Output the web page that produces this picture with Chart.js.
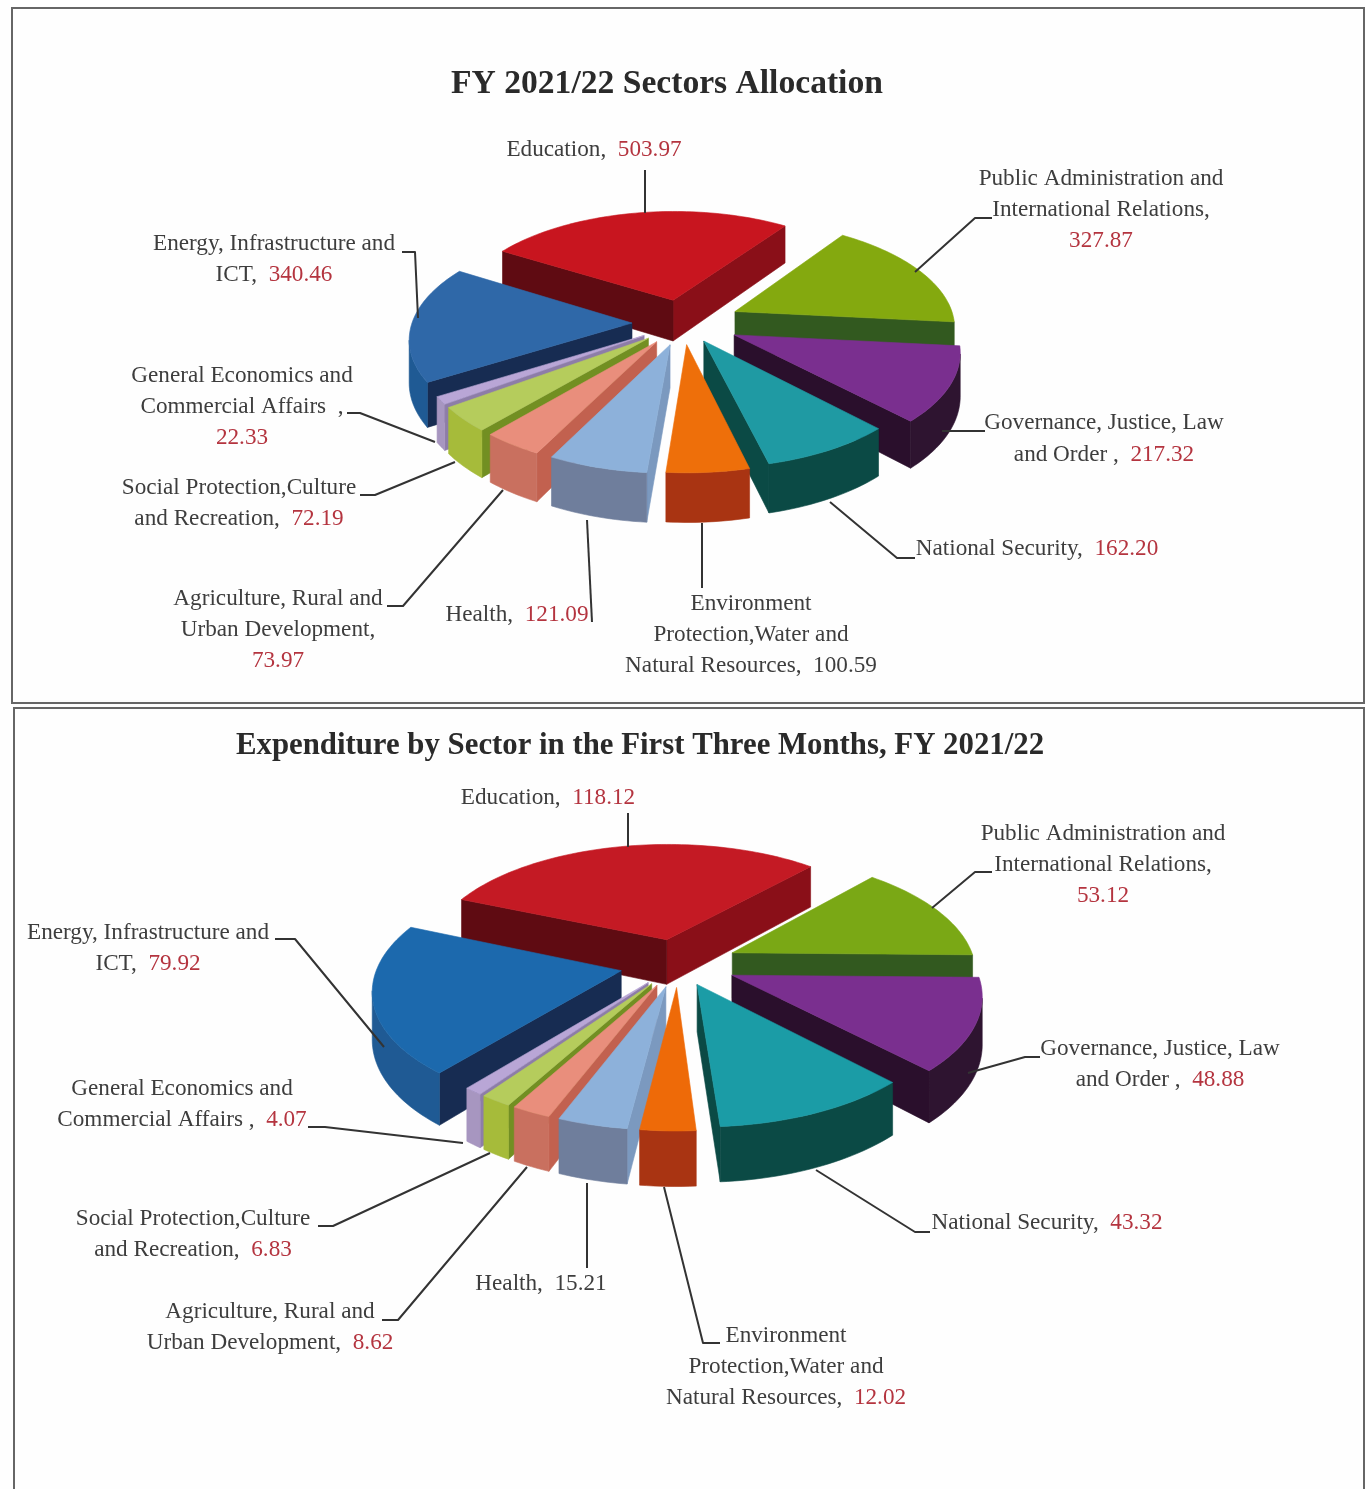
<!DOCTYPE html>
<html><head><meta charset="utf-8">
<script src="https://cdn.jsdelivr.net/npm/chart.js@4"></script>
<style>
html,body{margin:0;padding:0;background:#fefefe;width:1365px;height:1489px;overflow:hidden}
canvas{position:absolute;left:0;filter:blur(.7px)}
.frame{position:absolute;box-sizing:border-box;border:2px solid #666;filter:blur(.6px)}
</style></head><body>
<div class="frame" style="left:11px;top:7px;width:1354px;height:697px"></div>
<div class="frame" style="left:13px;top:707px;width:1352px;height:800px;border-bottom:none"></div>
<canvas id="c1" width="1334" height="705" style="top:0"></canvas>
<canvas id="c2" width="1280" height="781" style="top:708px"></canvas>
<script>
// ---- data ----
const categories = ["Education","Public Administration and International Relations","Governance, Justice, Law and Order","National Security","Environment Protection, Water and Natural Resources","Health","Agriculture, Rural and Urban Development","Social Protection, Culture and Recreation","General Economics and Commercial Affairs","Energy, Infrastructure and ICT"];
const allocation = [503.97,327.87,217.32,162.20,100.59,121.09,73.97,72.19,22.33,340.46];
const expenditure = [118.12,53.12,48.88,43.32,12.02,15.21,8.62,6.83,4.07,79.92];
const title1 = "FY 2021/22 Sectors Allocation";
const title2 = "Expenditure by Sector in the First Three Months, FY 2021/22";

// ---- styles ----
const topColors1  = ["#c8151f","#84a90f","#7a2f8f","#1f9aa3","#ee6f0a","#8db1da","#e98e7c","#b5cc5c","#b9a6d6","#2f68a8"];
const topColors2  = ["#c41a24","#7aa815","#7a2f8f","#1b9ca6","#ee6a08","#8db1da","#e98e7c","#b5cc5c","#b9a6d6","#1c69ad"];
const rimColors   = ["#7a0d15","#35591f","#2e1430","#0b4a45","#a93412","#6f7e9c","#c9705f","#a6bb3a","#a796c0","#1f5a94"];
const startColors = ["#5f0b12","#35591f","#2e1430","#0b4a45","#a93412","#7b99bf","#c2614f","#728f22","#8d7da8","#172c52"];
const endColors   = ["#8a0f18","#32591f","#2a0f2c","#0b4a45","#a93412","#6f7e9c","#c9705f","#728f22","#8d7da8","#172c52"];
const offsets1 = [50,58,56,42,44,46,46,46,46,51];
const offsets2 = [54,60,58,46,48,48,48,48,48,58];
const INK="#3d3d3d", RED="#b4343f", LINE="#333333";

// label text: {v} stands for the value from the data arrays
const labels1 = [
 {x:594,y:[150],t:["Education,  {v}"]},
 {x:1101,y:[179,210,241],t:["Public Administration and","International Relations,","{v}"]},
 {x:1104,y:[423,455],t:["Governance, Justice, Law","and Order ,  {v}"]},
 {x:1037,y:[549],t:["National Security,  {v}"]},
 {x:751,y:[604,635,666],t:["Environment","Protection,Water and","Natural Resources,  {v}"],ink:true},
 {x:517,y:[615],t:["Health,  {v}"]},
 {x:278,y:[599,630,661],t:["Agriculture, Rural and","Urban Development,","{v}"]},
 {x:239,y:[488,519],t:["Social Protection,Culture","and Recreation,  {v}"]},
 {x:242,y:[376,407,438],t:["General Economics and","Commercial Affairs  ,","{v}"]},
 {x:274,y:[244,275],t:["Energy, Infrastructure and","ICT,  {v}"]}
];
const labels2 = [
 {x:548,y:[798],t:["Education,  {v}"]},
 {x:1103,y:[834,865,896],t:["Public Administration and","International Relations,","{v}"]},
 {x:1160,y:[1049,1080],t:["Governance, Justice, Law","and Order ,  {v}"]},
 {x:1047,y:[1223],t:["National Security,  {v}"]},
 {x:786,y:[1336,1367,1398],t:["Environment","Protection,Water and","Natural Resources,  {v}"]},
 {x:541,y:[1284],t:["Health,  {v}"],ink:true},
 {x:270,y:[1312,1343],t:["Agriculture, Rural and","Urban Development,  {v}"]},
 {x:193,y:[1219,1250],t:["Social Protection,Culture","and Recreation,  {v}"]},
 {x:182,y:[1089,1120],t:["General Economics and","Commercial Affairs ,  {v}"]},
 {x:148,y:[933,964],t:["Energy, Infrastructure and","ICT,  {v}"]}
];
const leaders1 = [
 [[645,170],[645,213]],
 [[992,218],[975,218],[915,272]],
 [[985,431],[942,431]],
 [[915,558],[897,558],[830,502]],
 [[702,588],[702,523]],
 [[592,622],[587,520]],
 [[387,606],[403,606],[503,490]],
 [[360,495],[375,495],[455,462]],
 [[347,413],[360,413],[435,442]],
 [[402,252],[415,252],[418,318]]
];
const leaders2 = [
 [[628,813],[628,847]],
 [[992,872],[975,872],[932,908]],
 [[1040,1057],[1025,1057],[968,1073]],
 [[930,1232],[915,1232],[816,1170]],
 [[720,1343],[703,1343],[664,1187]],
 [[587,1268],[587,1183]],
 [[382,1320],[398,1320],[527,1167]],
 [[318,1226],[333,1226],[490,1153]],
 [[308,1127],[325,1127],[463,1143]],
 [[275,939],[295,939],[384,1047]]
];

// Perspective pie: reads each arc's geometry from Chart.js and projects it
const pie3d = {
  id:'pie3d',
  beforeDatasetDraw(chart,args,opts){
    const ctx=chart.ctx, meta=args.meta;
    const P=(X,Y,z)=>{const s=opts.d/(opts.d-Y);return [opts.cx+s*X, opts.cy-opts.top+s*(opts.k*Y+(z||0))];};
    const fillPoly=(pts,color)=>{ctx.beginPath();pts.forEach((p,i)=>i?ctx.lineTo(p[0],p[1]):ctx.moveTo(p[0],p[1]));ctx.closePath();ctx.fillStyle=color;ctx.strokeStyle=color;ctx.lineWidth=.6;ctx.fill();ctx.stroke();};
    const order=meta.data.map((el,i)=>{const m=(el.startAngle+el.endAngle)/2;return {el,i,m,key:Math.sin(m)*(1+el.options.offset/el.outerRadius)};}).sort((a,b)=>a.key-b.key);
    order.forEach(({el,i,m})=>{
      const off=el.options.offset, ox=Math.cos(m)*off, oy=Math.sin(m)*off, R=el.outerRadius;
      const n=Math.max(4,Math.ceil((el.endAngle-el.startAngle)*40));
      const world=[[ox,oy]];
      for(let j=0;j<=n;j++){const a=el.startAngle+(el.endAngle-el.startAngle)*j/n;world.push([ox+R*Math.cos(a),oy+R*Math.sin(a)]);}
      const N=world.length;
      const wall=(a,b,color)=>{const p=P(a[0],a[1]),q=P(b[0],b[1]);if(q[0]-p[0]<0)fillPoly([p,q,P(b[0],b[1],opts.h),P(a[0],a[1],opts.h)],color);};
      wall(world[N-1],world[0],endColors[i]);
      wall(world[0],world[1],startColors[i]);
      // rim: one polygon for each visible run of arc segments
      let run=[];
      const flush=()=>{if(run.length>1){const top=run.map(w=>P(w[0],w[1]));const bot=run.slice().reverse().map(w=>P(w[0],w[1],opts.h));fillPoly(top.concat(bot),rimColors[i]);}run=[];};
      for(let j=1;j<N-1;j++){
        const p=P(world[j][0],world[j][1]),q=P(world[j+1][0],world[j+1][1]);
        if(q[0]-p[0]<0){if(!run.length)run.push(world[j]);run.push(world[j+1]);}else flush();
      }
      flush();
      fillPoly(world.map(w=>P(w[0],w[1])),el.options.backgroundColor);
    });
    return false;
  },
  afterDraw(chart,args,opts){
    const ctx=chart.ctx, vals=chart.data.datasets[0].data;
    ctx.save();
    ctx.strokeStyle=LINE;ctx.lineWidth=2;ctx.lineJoin='round';
    opts.leaders.forEach(l=>{ctx.beginPath();l.forEach((p,i)=>{const y=p[1]-opts.top;i?ctx.lineTo(p[0],y):ctx.moveTo(p[0],y);});ctx.stroke();});
    ctx.font='23.2px "Liberation Serif"';ctx.textBaseline='middle';ctx.textAlign='left';
    opts.labels.forEach((lab,i)=>{
      const v=vals[i].toFixed(2);
      lab.t.forEach((line,k)=>{
        const parts=line.split('{v}');
        const pre=parts[0], hasV=parts.length>1;
        const w=ctx.measureText(pre).width+(hasV?ctx.measureText(v).width:0);
        let x=lab.x-w/2; const y=lab.y[k]-opts.top;
        ctx.fillStyle=INK;ctx.fillText(pre,x,y);x+=ctx.measureText(pre).width;
        if(hasV){ctx.fillStyle=lab.ink?INK:RED;ctx.fillText(v,x,y);}
      });
    });
    ctx.restore();
  }
};

function build(id,values,colors,title,titleTop,titleSize,rotation,offsets,radius,labels,leaders,geom){
  return new Chart(document.getElementById(id),{
    type:'pie',
    plugins:[pie3d],
    data:{labels:categories,datasets:[{data:values,backgroundColor:colors,offset:offsets,borderWidth:0,radius:radius}]},
    options:{
      responsive:false,animation:false,rotation:rotation,
      layout:{padding:0},
      plugins:{
        legend:{display:false},tooltip:{enabled:false},
        title:{display:true,text:title,color:'#2a2a2a',font:{family:'"Liberation Serif"',size:titleSize,weight:'bold'},padding:{top:titleTop,bottom:4}},
        pie3d:Object.assign({labels,leaders},geom)
      }
    }
  });
}
build('c1',allocation,topColors1,title1,64,33.6,-58.5,offsets1,220,labels1,leaders1,{cx:683,cy:323,top:0,d:1708,k:.48,h:42});
build('c2',expenditure,topColors2,title2,20,30.8,-67,offsets2,243,labels2,leaders2,{cx:678,cy:964,top:708,d:1690,k:.475,h:46});
</script>
</body></html>
